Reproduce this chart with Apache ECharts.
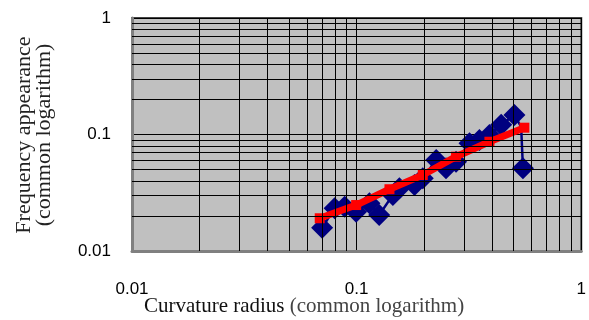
<!DOCTYPE html>
<html>
<head>
<meta charset="utf-8">
<script src="https://cdn.jsdelivr.net/npm/echarts@6/dist/echarts.min.js"></script>
<style>
html,body{margin:0;padding:0;background:#fff;}
#chart{width:589px;height:320px;}
</style>
</head>
<body>
<div id="chart"></div>
<script>
// Observed data (curvature radius vs frequency appearance)
var radius = [0.0702, 0.0798, 0.0885, 0.0995, 0.114, 0.126, 0.145, 0.155, 0.181, 0.197, 0.226, 0.25, 0.277, 0.318, 0.352, 0.39, 0.44, 0.504, 0.54, 0.55];
var frequency = [0.0158, 0.0233, 0.024, 0.0217, 0.0257, 0.0204, 0.0303, 0.0345, 0.0368, 0.0421, 0.0604, 0.0513, 0.0584, 0.084, 0.0897, 0.099, 0.121, 0.147, 0.116, 0.0513];
// Fitted curve
var fitRadius = [0.0685, 0.0995, 0.140, 0.197, 0.277, 0.39, 0.558];
var fitFrequency = [0.0191, 0.0248, 0.0339, 0.0449, 0.0645, 0.0867, 0.1144];
// Axis ranges and minor grid values
var xRange = [0.01, 1];
var yRange = [0.01, 1];
var minorX = [0.02,0.03,0.04,0.05,0.06,0.07,0.08,0.09,0.2,0.3,0.4,0.5,0.6,0.7,0.8,0.9];
var minorY = [0.02,0.03,0.04,0.05,0.06,0.07,0.08,0.09,0.2,0.3,0.4,0.5,0.6,0.7,0.8,0.9];
var hiddenMarker = 18; // point lying under the fitted line's end
var xTitle = ['Curvature radius ', '(common logarithm)'];
var yTitle = ['Frequency appearance', '(common logarithm)'];

var chart = echarts.init(document.getElementById('chart'), null, {renderer: 'canvas'});

function pairs(xs, ys) { return xs.map(function (x, i) { return [x, ys[i]]; }); }

var markData = minorX.map(function (v) { return {xAxis: v}; })
  .concat(minorY.map(function (v) { return {yAxis: v}; }));

chart.setOption({
  animation: false,
  backgroundColor: '#ffffff',
  grid: {
    left: 132, right: 7, top: 18, bottom: 69,
    show: true, backgroundColor: '#c0c0c0',
    borderColor: '#444', borderWidth: 2
  },
  xAxis: {
    type: 'log', logBase: 10, min: xRange[0], max: xRange[1],
    axisLine: {show: true, lineStyle: {color: '#808080', width: 3}},
    axisTick: {show: false},
    splitLine: {show: true, lineStyle: {color: '#000', width: 1}},
    axisLabel: {fontSize: 17, color: '#000', fontFamily: 'Liberation Sans', margin: 30}
  },
  yAxis: {
    type: 'log', logBase: 10, min: yRange[0], max: yRange[1],
    axisLine: {show: true, lineStyle: {color: '#808080', width: 3}},
    axisTick: {show: false},
    splitLine: {show: true, lineStyle: {color: '#000', width: 1}},
    axisLabel: {fontSize: 17, color: '#000', fontFamily: 'Liberation Sans', margin: 21}
  },
  graphic: [
    {
      type: 'text', left: 144, top: 296,
      style: {
        text: '{a|' + xTitle[0] + '}{b|' + xTitle[1] + '}',
        rich: {
          a: {fontSize: 21, fontFamily: 'Liberation Serif', fill: '#111'},
          b: {fontSize: 21, fontFamily: 'Liberation Serif', fill: '#444'}
        }
      }
    },
    {
      type: 'text', x: 34, y: 135, rotation: Math.PI / 2,
      style: {
        text: yTitle.join('\n'),
        fontSize: 22, fontFamily: 'Liberation Serif', fill: '#222',
        align: 'center', verticalAlign: 'middle', lineHeight: 20
      }
    }
  ],
  series: [
    {
      type: 'line', data: [], z: 1, silent: true,
      markLine: {
        silent: true, symbol: 'none', animation: false,
        label: {show: false},
        lineStyle: {color: '#000', width: 1, type: 'solid'},
        emphasis: {disabled: true},
        data: markData
      }
    },
    {
      type: 'line', data: pairs(radius, frequency), z: 3,
      symbol: 'diamond', showAllSymbol: true,
      symbolSize: function (v, p) { return p.dataIndex === hiddenMarker ? 0 : 22; },
      itemStyle: {color: '#000080'},
      lineStyle: {color: '#000080', width: 2.5}
    },
    {
      type: 'line', data: pairs(fitRadius, fitFrequency), z: 4,
      symbol: 'rect', symbolSize: 10, showAllSymbol: true,
      itemStyle: {color: '#ff0000'},
      lineStyle: {color: '#ff0000', width: 7}
    }
  ]
});
</script>
</body>
</html>
